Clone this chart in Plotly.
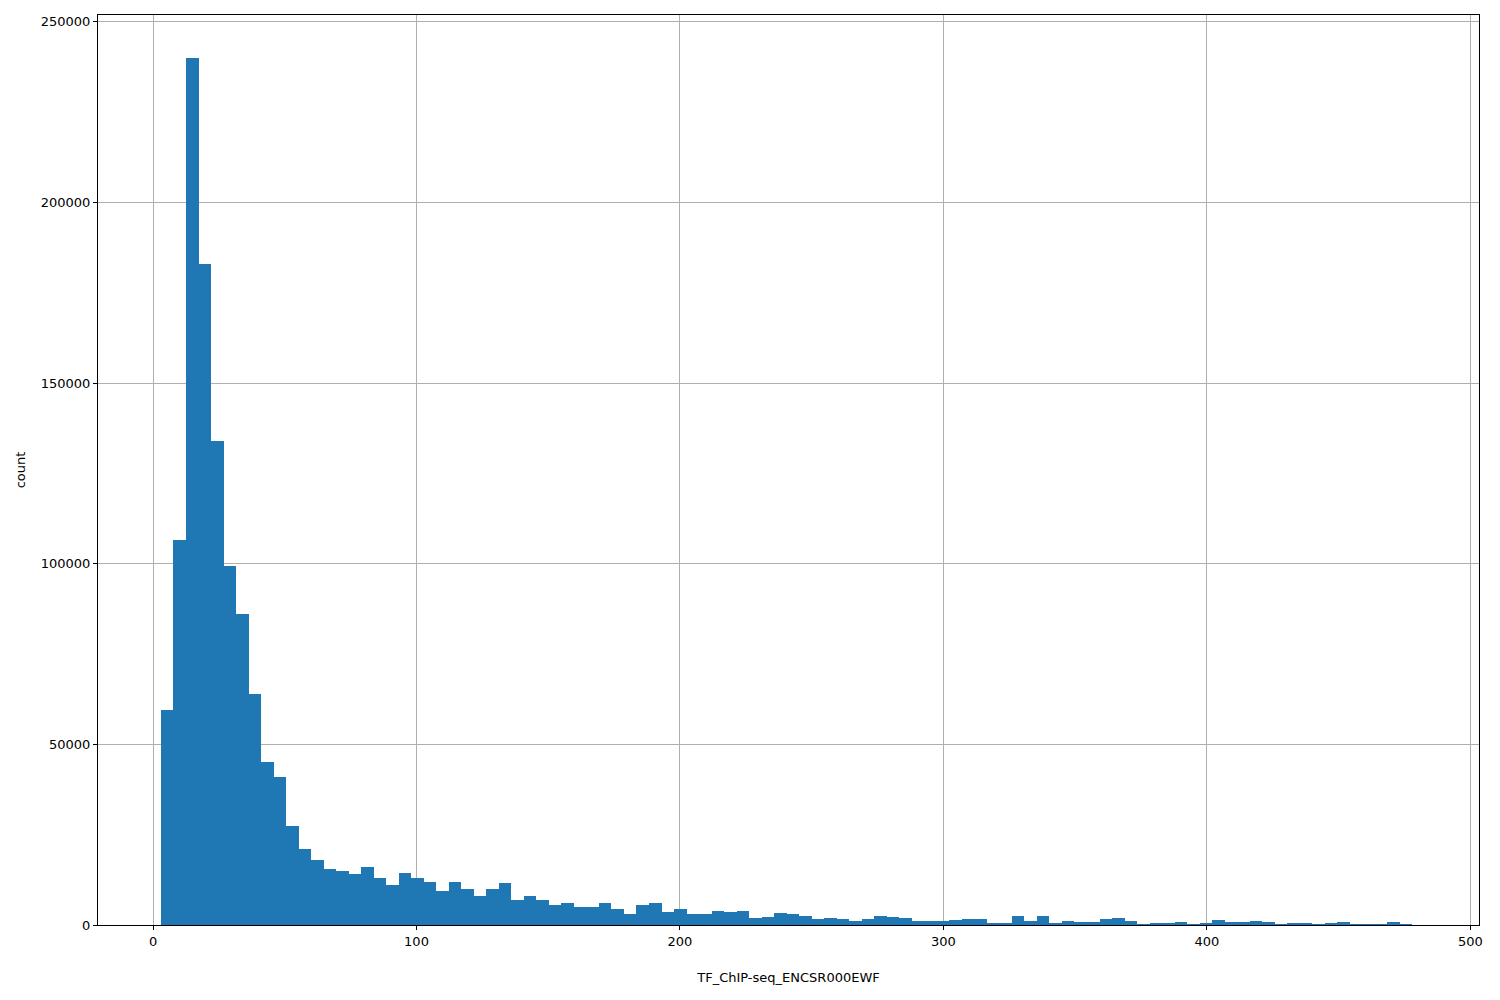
import plotly.graph_objects as go

bin_start = 3.0
bin_width = 4.75
counts = [59500,106500,240000,183000,134000,99500,86000,64000,45000,41000,
          27500,21000,18000,15500,15000,14000,16000,13000,11000,14500,
          13000,12000,9500,12000,10000,8000,10000,11500,7000,8000,
          7000,5500,6000,5000,5000,6000,4500,3000,5500,6000,
          3500,4500,3000,3000,4000,3500,4000,2000,2200,3200,
          3000,2600,1800,2000,1700,1000,1600,2600,2200,2000,
          1200,1000,1200,1500,1800,1800,600,500,2400,1200,
          2400,400,1200,900,900,1600,2000,1200,200,600,
          300,800,100,500,1500,900,700,1000,900,200,
          400,300,100,400,700,100,100,100,900,100]
centers = [bin_start + bin_width*(i+0.5) for i in range(len(counts))]

fig = go.Figure(go.Bar(x=centers, y=counts, width=bin_width, marker=dict(color="#1f77b4", line=dict(width=0))))
ax = dict(showline=True, linecolor="black", mirror=True, showgrid=True, gridcolor="#b0b0b0",
          ticks="outside", ticklen=4, tickcolor="black", zeroline=False,
          tickfont=dict(family="DejaVu Sans", size=13, color="black"))
fig.update_layout(width=1500, height=1000, margin=dict(l=90, r=29, t=7, b=83),
                  paper_bgcolor="white", plot_bgcolor="white", bargap=0, showlegend=False,
                  font=dict(family="DejaVu Sans", size=13, color="black"))
fig.update_xaxes(**ax, range=[-20.9, 503.3], tickvals=[0,100,200,300,400,500],
                 title=dict(text="TF_ChIP-seq_ENCSR000EWF", standoff=25, font=dict(size=13)))
fig.update_yaxes(**ax, range=[0, 251900], tickvals=[0,50000,100000,150000,200000,250000],
                 tickformat="d", title=dict(text="count", standoff=12, font=dict(size=13)))
fig.write_html("out.html")
